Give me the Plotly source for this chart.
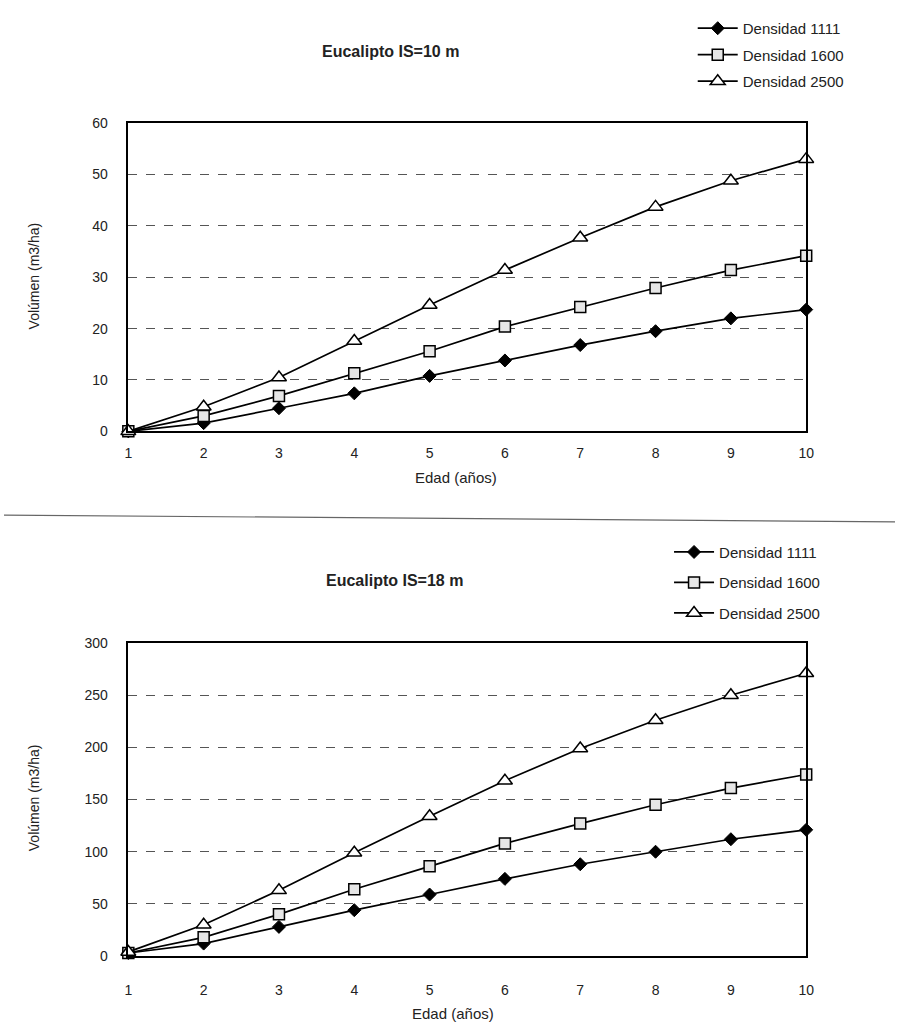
import plotly.graph_objects as go

edad = [1, 2, 3, 4, 5, 6, 7, 8, 9, 10]

# Eucalipto IS=10 m
is10_d1111 = [0, 1.6, 4.5, 7.4, 10.8, 13.8, 16.8, 19.5, 22.0, 23.7]
is10_d1600 = [0, 3.0, 6.9, 11.3, 15.6, 20.4, 24.2, 27.9, 31.4, 34.2]
is10_d2500 = [0, 4.8, 10.5, 17.6, 24.6, 31.4, 37.7, 43.7, 48.8, 53.0]

# Eucalipto IS=18 m
is18_d1111 = [3, 12, 28, 44, 59, 74, 88, 100, 112, 121]
is18_d1600 = [3, 18, 40, 64, 86, 108, 127, 145, 161, 174]
is18_d2500 = [4, 30, 63, 99, 134, 168, 199, 226, 250, 271]

series_names = ["Densidad 1111", "Densidad 1600", "Densidad 2500"]
y_ticks_top = [0, 10, 20, 30, 40, 50, 60]
y_ticks_bot = [0, 50, 100, 150, 200, 250, 300]

W, H = 903, 1034
FONT = "Liberation Sans, Arial, sans-serif"

marker_styles = [
    dict(symbol="diamond", size=10, color="black", line=dict(color="black", width=1)),
    dict(symbol="square", size=11, color="#e6e6e6", line=dict(color="black", width=1.5)),
    dict(symbol="triangle-up", size=13, color="white", line=dict(color="black", width=1.5)),
]

fig = go.Figure()

top_data = [is10_d1111, is10_d1600, is10_d2500]
bot_data = [is18_d1111, is18_d1600, is18_d2500]

for i, (name, ys) in enumerate(zip(series_names, top_data)):
    fig.add_trace(go.Scatter(
        x=edad, y=ys, name=name, mode="lines+markers",
        line=dict(color="black", width=1.7), marker=marker_styles[i],
        xaxis="x", yaxis="y", legend="legend", legendgroup=f"t{i}",
        cliponaxis=False,
    ))
for i, (name, ys) in enumerate(zip(series_names, bot_data)):
    fig.add_trace(go.Scatter(
        x=edad, y=ys, name=name, mode="lines+markers",
        line=dict(color="black", width=1.7), marker=marker_styles[i],
        xaxis="x2", yaxis="y2", legend="legend2", legendgroup=f"b{i}",
        cliponaxis=False,
    ))

def px_x(p):
    return p / W

def px_y(p):
    return 1 - p / H

xdom = [px_x(126), px_x(813)]
axis_common = dict(
    showline=True, linecolor="black", linewidth=1.5, mirror=True,
    ticks="", tickfont=dict(family=FONT, size=14, color="#222"),
    zeroline=False,
)

fig.update_layout(
    width=W, height=H,
    margin=dict(l=0, r=0, t=0, b=0),
    paper_bgcolor="white", plot_bgcolor="white",
    font=dict(family=FONT, color="#222"),
    xaxis=dict(domain=xdom, anchor="y", range=[1, 10], tickvals=edad,
               showgrid=False, ticklabelstandoff=8, **axis_common),
    yaxis=dict(domain=[px_y(430), px_y(117)], anchor="x", range=[0, 60],
               tickvals=y_ticks_top, showgrid=True, gridcolor="#555",
               griddash="dash", gridwidth=1, ticklabelstandoff=16, **axis_common),
    xaxis2=dict(domain=xdom, anchor="y2", range=[1, 10], tickvals=edad,
                showgrid=False, ticklabelstandoff=20, **axis_common),
    yaxis2=dict(domain=[px_y(963), px_y(645)], anchor="x2", range=[0, 300],
                tickvals=y_ticks_bot, showgrid=True, gridcolor="#555",
                griddash="dash", gridwidth=1, ticklabelstandoff=16, **axis_common),
    legend=dict(x=px_x(698), y=px_y(4), xanchor="left", yanchor="top",
                font=dict(family=FONT, size=15, color="#222"),
                bgcolor="rgba(0,0,0,0)", itemwidth=40, tracegroupgap=4,
                traceorder="grouped"),
    legend2=dict(x=px_x(674), y=px_y(536), xanchor="left", yanchor="top",
                 font=dict(family=FONT, size=15, color="#222"),
                 bgcolor="rgba(0,0,0,0)", itemwidth=40, tracegroupgap=8,
                 traceorder="grouped"),
    showlegend=True,
)

def note(text, x, y, size, angle=0):
    return dict(text=text, x=px_x(x), y=px_y(y), xref="paper", yref="paper",
                xanchor="center", yanchor="middle", showarrow=False,
                textangle=angle, font=dict(family=FONT, size=size, color="#222"))

ann = [
    note("<b>Eucalipto IS=10 m</b>", 392, 44, 16),
    note("<b>Eucalipto IS=18 m</b>", 396, 581, 16),
    note("Edad (años)", 458, 477, 15),
    note("Edad (años)", 455, 1021, 15),
    note("Volúmen (m3/ha)", 30, 272, 14, -90),
    note("Volúmen (m3/ha)", 30, 802, 14, -90),
]
fig.update_layout(annotations=ann)

fig.add_shape(type="line", xref="paper", yref="paper",
              x0=0, x1=1, y0=px_y(515), y1=px_y(522),
              line=dict(color="#666", width=1.2))

fig.write_html("out.html")
